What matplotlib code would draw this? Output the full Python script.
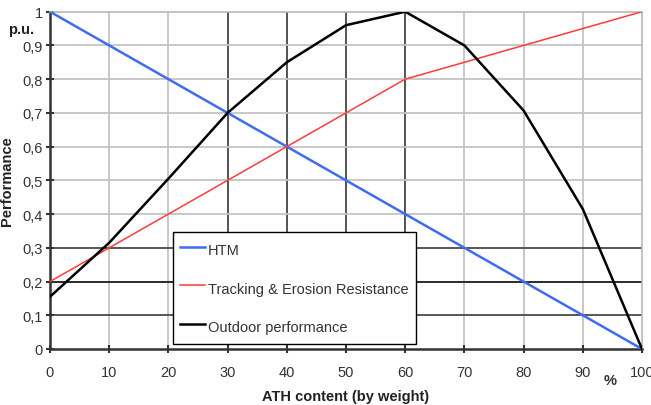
import matplotlib
matplotlib.use("Agg")
import matplotlib.pyplot as plt

plt.rcParams['font.family'] = ['Liberation Sans', 'DejaVu Sans']

ath = [0, 10, 20, 30, 40, 50, 60, 70, 80, 90, 100]
htm = [1.0, 0.9, 0.8, 0.7, 0.6, 0.5, 0.4, 0.3, 0.2, 0.1, 0.0]
tracking = [0.2, 0.3, 0.4, 0.5, 0.6, 0.7, 0.8, 0.85, 0.9, 0.95, 1.0]
outdoor = [0.155, 0.315, 0.505, 0.70, 0.85, 0.96, 1.0, 0.90, 0.707, 0.415, 0.0]

x_ticks = [0, 10, 20, 30, 40, 50, 60, 70, 80, 90, 100]
y_ticks = [0, 0.1, 0.2, 0.3, 0.4, 0.5, 0.6, 0.7, 0.8, 0.9, 1.0]
y_labels = ['0', '0,1', '0,2', '0,3', '0,4', '0,5', '0,6', '0,7', '0,8', '0,9', '1']

fs = 10.5

fig = plt.figure(figsize=(6.51, 4.06), dpi=100)
ax = fig.add_axes([50 / 651, 56 / 406, 592 / 651, 337.3 / 406])

# grid: mostly light gray, a few lines darker like in the original
for xv in x_ticks[1:-1]:
    c = '#454545' if xv in (30, 40, 50, 60) else '#c4c4c4'
    ax.axvline(xv, color=c, lw=1.3, zorder=1)
for yv in y_ticks[1:-1]:
    if yv == 0.2:
        c = '#1a1a1a'
    elif yv in (0.1, 0.3):
        c = '#4a4a4a'
    else:
        c = '#c4c4c4'
    ax.axhline(yv, color=c, lw=1.3, zorder=1)

ax.plot(ath, htm, color='#3f6cf0', lw=1.8, label='HTM', zorder=3)
ax.plot(ath, tracking, color='#ff3b3b', lw=1.1, label='Tracking & Erosion Resistance', zorder=3)
ax.plot(ath, outdoor, color='black', lw=1.8, label='Outdoor performance', zorder=3)

ax.set_xlim(0, 100)
ax.set_ylim(0, 1)
ax.set_xticks(x_ticks)
ax.set_yticks(y_ticks)
ax.set_yticklabels(y_labels)

for s in ('left', 'bottom'):
    ax.spines[s].set_color('#333333')
    ax.spines[s].set_linewidth(1.8)
for s in ('top', 'right'):
    ax.spines[s].set_color('#b8b8b8')
    ax.spines[s].set_linewidth(1.2)

ax.tick_params(axis='both', labelsize=fs, colors='#333333', labelcolor='#333333',
               direction='inout', length=6, width=1.5)
ax.tick_params(axis='x', pad=8.5)
ax.tick_params(axis='y', pad=2)

fig.text(346 / 651, 1 - 397 / 406, 'ATH content (by weight)', fontsize=fs,
         fontweight='bold', ha='center', va='center', color='#222222')
fig.text(7 / 651, 1 - 181 / 406, 'Performance', rotation=90, fontsize=fs,
         fontweight='bold', ha='center', va='center', color='#222222')
fig.text(21 / 651, 1 - 30 / 406, 'p.u.', fontsize=fs, fontweight='bold',
         ha='center', va='center', color='#222222')
fig.text(610 / 651, 1 - 381 / 406, '%', fontsize=fs, fontweight='bold',
         ha='center', va='center', color='#333333')

leg = ax.legend(loc='lower left', bbox_to_anchor=(123 / 592, 5 / 337.3),
                fontsize=fs, frameon=True, fancybox=False, edgecolor='black',
                framealpha=1, borderpad=0.5, borderaxespad=0, handlelength=1.7,
                handletextpad=0.2, handleheight=1.8, labelspacing=1.22)
leg.get_frame().set_linewidth(1.0)
leg.set_zorder(5)
for t in leg.get_texts():
    t.set_color('#333333')

fig.savefig('out.png', dpi=100)
